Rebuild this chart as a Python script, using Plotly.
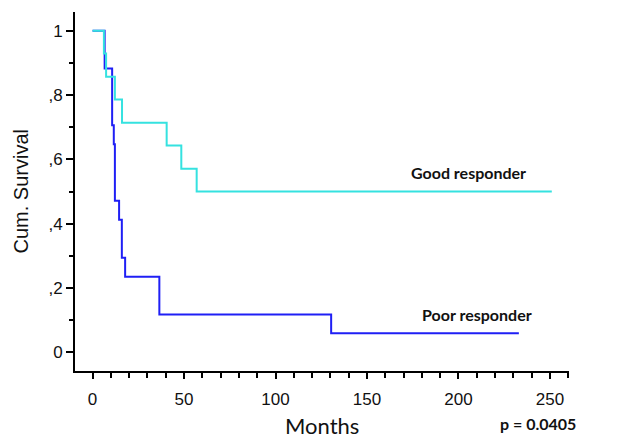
import plotly.graph_objects as go

# Kaplan-Meier step data
good_months = [0, 6.2, 7.4, 12.2, 16.1, 40.5, 48.5, 56.9, 251]
good_surv = [1.0, 0.929, 0.857, 0.786, 0.714, 0.643, 0.571, 0.5, 0.5]

poor_months = [0, 6.6, 10.7, 11.6, 12.2, 14.5, 16.0, 17.8, 36.5, 130.4, 233]
poor_surv = [1.0, 0.882, 0.706, 0.647, 0.471, 0.412, 0.294, 0.235, 0.118, 0.059, 0.059]

y_tickvals = [0, 0.2, 0.4, 0.6, 0.8, 1.0]
y_ticktext = ["0", ",2", ",4", ",6", ",8", "1"]
x_tickvals = [0, 50, 100, 150, 200, 250]

labels = ["Good responder", "Poor responder"]
label_pos = [(205.3, 0.558), (210.2, 0.117)]
p_text = "p = 0.0405"

fig = go.Figure()
fig.add_trace(go.Scatter(x=poor_months, y=poor_surv, mode="lines",
                         line=dict(color="#1f1ff5", width=2, shape="hv"),
                         name=labels[1], showlegend=False))
fig.add_trace(go.Scatter(x=good_months, y=good_surv, mode="lines",
                         line=dict(color="#35e2e0", width=2, shape="hv"),
                         name=labels[0], showlegend=False))

for txt, (lx, ly) in zip(labels, label_pos):
    fig.add_annotation(x=lx, y=ly, text=txt, showarrow=False,
                       font=dict(family="Lato", size=16, color="#111111", weight="bold"),
                       xanchor="center", yanchor="middle")

fig.add_annotation(xref="paper", yref="paper", x=1, y=0, xanchor="right", yanchor="middle",
                   xshift=9, yshift=-52, text="<b>" + p_text + "</b>", showarrow=False,
                   font=dict(family="Lato", size=16, color="#111111"))
fig.add_annotation(xref="paper", yref="paper", x=0.5, y=0, xanchor="center", yanchor="middle",
                   yshift=-54, text="Months", showarrow=False,
                   font=dict(family="Lato", size=22, color="#111111"))
fig.add_annotation(xref="paper", yref="paper", x=0, y=0.5, xanchor="center", yanchor="middle",
                   xshift=-55, text="Cum. Survival", textangle=-90, showarrow=False,
                   font=dict(family="Liberation Sans", size=20, color="#111111"))

fig.update_xaxes(range=[-9.6, 260.4], tickvals=x_tickvals, showline=True, linecolor="black",
                 linewidth=2, ticks="outside", ticklen=6, tickwidth=1.5, tickcolor="black",
                 showgrid=False, zeroline=False,
                 minor=dict(dtick=10, tick0=0, ticks="outside", ticklen=5, tickwidth=1.5,
                            tickcolor="black", showgrid=False),
                 tickfont=dict(family="Liberation Sans", size=17, color="#111111"),
                 ticklabelstandoff=6)
fig.update_yaxes(range=[-0.058, 1.058], tickvals=y_tickvals, ticktext=y_ticktext, showline=True,
                 linecolor="black", linewidth=2, ticks="outside", ticklen=7, tickwidth=1.5,
                 tickcolor="black", showgrid=False, zeroline=False,
                 minor=dict(dtick=0.1, tick0=0, ticks="outside", ticklen=4, tickwidth=1.5,
                            tickcolor="black", showgrid=False),
                 tickfont=dict(family="Liberation Sans", size=17, color="#111111"))

fig.update_layout(width=632, height=438, plot_bgcolor="white", paper_bgcolor="white",
                  margin=dict(l=75, r=63, t=12, b=67), showlegend=False)

fig.write_html("out.html", config={"displayModeBar": False},
               post_script="document.body.style.margin='0';document.body.style.overflow='hidden';")
